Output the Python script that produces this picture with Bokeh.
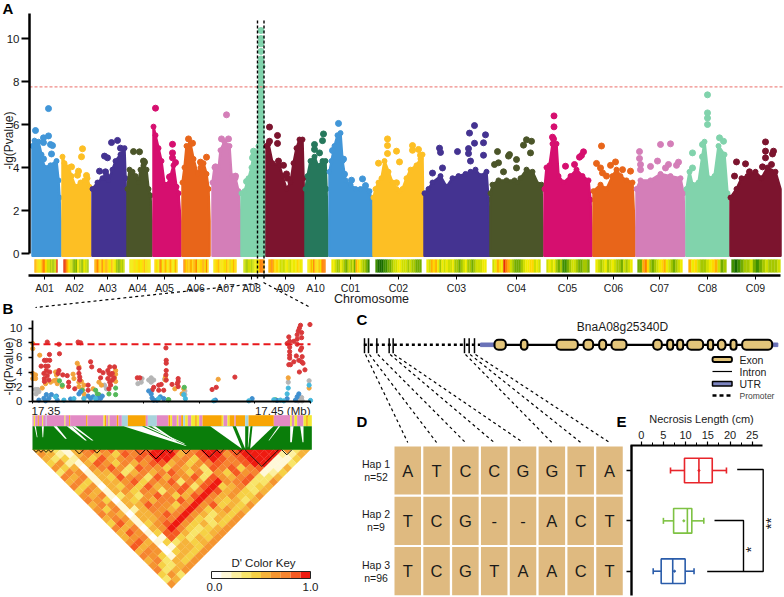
from bokeh.plotting import figure
from bokeh.models import LinearAxis, Range1d, FixedTicker
from bokeh.core.properties import value
from bokeh.embed import file_html
from bokeh.resources import INLINE
import math

FONT = "Liberation Sans"
W, H = 784, 597

# ---------------- Panel A data -----------------
chrom_names = ["A01","A02","A03","A04","A05","A06","A07","A08","A09","A10","C01","C02","C03","C04","C05","C06","C07","C08","C09"]
chrom_ticks = [44,74,107,137,164,195,225,251,285,315,350,398,456,516,567,613,659,707,755]
chrom_colors = ["#4196d8","#fdbf24","#443391","#4b5529","#d60f6f","#e8651a","#d47eb8","#81d3ac","#7c142e","#26785c",
                "#4196d8","#fdbf24","#443391","#4b5529","#d60f6f","#e8651a","#d47eb8","#81d3ac","#7c142e"]
env_A01 = [(32,5.0),(34,5.25),(38,5.2),(41,4.6),(44,4.0),(50,4.1),(56,4.3),(58,3.4),(59,2.6),(60,1.5)]
env_A02 = [(62,4.5),(64,4.2),(68,4.0),(71,3.6),(75,3.1),(80,3.3),(84,3.4),(87,3.5),(89,3.1),(90,1.5)]
env_A03 = [(92,3.0),(97,3.3),(102,3.5),(108,3.4),(112,3.9),(115,4.3),(120,4.6),(124,4.9),(125,3.5),(126,1.5)]
env_A04 = [(127,3.0),(129,3.9),(132,3.8),(135,3.6),(138,3.3),(140,3.9),(143,4.1),(146,3.9),(148,3.0),(150,2.7),(151,1.5)]
env_A05 = [(153,5.9),(155,5.5),(158,4.9),(161,4.3),(164,3.2),(167,3.2),(170,3.6),(173,4.1),(176,3.1),(178,2.8),(180,1.5)]
env_A06 = [(182,3.3),(184,4.0),(186,5.0),(190,5.1),(193,4.4),(197,3.7),(200,4.0),(203,4.2),(206,3.7),(208,3.0),(209,1.5)]
env_A07 = [(212,3.3),(214,4.0),(218,3.9),(220,4.8),(224,5.2),(229,5.0),(231,3.6),(235,3.5),(238,2.9),(240,1.5)]
env_A08 = [(241,2.8),(244,2.9),(248,3.5),(251,4.0),(253,4.6),(256,4.6),(258,5.0),(259,8.7),(262,8.7),(263,4.5),(264,3.0),(265,1.5)]
env_A09 = [(266,5.0),(268,5.1),(272,4.2),(279,4.1),(282,3.6),(286,3.0),(290,3.3),(293,4.2),(296,4.9),(299,5.3),(302,5.3),(303,3.5),(304,1.5)]
env_A10 = [(305,3.0),(307,3.6),(310,4.3),(314,4.5),(318,4.0),(320,4.1),(322,4.3),(325,4.3),(326,3.0),(327,1.5)]
env_C01 = [(329,3.8),(331,4.3),(334,5.0),(337,5.5),(340,5.6),(342,4.3),(345,3.4),(350,3.2),(355,3.0),(360,3.0),(365,3.1),(369,2.9),(371,2.5),(372,1.2)]
env_C02 = [(373,2.6),(375,3.0),(378,3.3),(381,3.5),(384,4.3),(388,3.8),(392,3.3),(396,3.0),(399,2.9),(402,3.0),(406,3.5),(410,3.9),(416,4.1),(420,4.4),(422,4.6),(423,1.2)]
env_C03 = [(424,2.8),(428,3.0),(432,3.3),(440,3.6),(446,3.1),(452,3.5),(458,3.6),(465,3.7),(470,3.8),(475,3.9),(480,3.6),(486,3.8),(488,2.5),(489,1.2)]
env_C04 = [(490,2.8),(492,3.2),(498,3.4),(506,3.4),(514,3.4),(517,3.3),(520,3.5),(526,3.9),(532,3.8),(538,3.2),(541,3.2),(542,1.2)]
env_C05 = [(544,3.0),(546,4.0),(549,4.1),(552,5.1),(556,5.1),(558,3.6),(563,3.3),(570,3.6),(576,3.9),(582,3.6),(588,3.4),(590,2.5),(591,1.2)]
env_C06 = [(593,2.9),(600,3.2),(606,3.0),(612,3.6),(616,3.9),(620,3.6),(626,3.4),(632,3.3),(634,1.2)]
env_C07 = [(636,3.0),(640,3.4),(650,3.4),(660,3.7),(670,3.6),(680,3.5),(683,2.8),(684,1.2)]
env_C08 = [(686,3.0),(689,3.8),(692,3.2),(698,3.3),(704,5.2),(708,3.5),(714,3.6),(718,5.0),(724,4.6),(727,2.8),(728,1.2)]
env_C09 = [(730,2.6),(736,3.0),(741,3.5),(747,3.6),(755,3.8),(761,3.5),(767,4.0),(775,3.8),(780,3.0)]
envelopes = [env_A01,env_A02,env_A03,env_A04,env_A05,env_A06,env_A07,env_A08,env_A09,env_A10,
             env_C01,env_C02,env_C03,env_C04,env_C05,env_C06,env_C07,env_C08,env_C09]

out_A01 = [(35,5.72),(48,6.74),(43,5.38),(48,5.47),(43,5.16),(50,5.07),(52,5.02),(51,4.63),(43,4.4)]
out_A02 = [(82,4.87),(81,4.5),(78,3.83),(77,3.64),(86,3.63),(71,4.03)]
out_A03 = [(111,5.16),(117,5.26),(120,4.9),(99,3.83),(105,3.8),(106,3.6),(104,4.53),(107,4.45)]
out_A04 = [(133,4.74),(139,4.73),(143,4.3),(144,4.25)]
out_A05 = [(155,6.76),(172,5.08),(172,4.68),(172,4.45),(175,4.23),(169,3.56)]
out_A06 = [(188,5.33),(192,5.13),(206,4.48),(200,4.25)]
out_A07 = [(226,6.45),(221,5.33),(228,5.33),(215,4.03),(235,3.6)]
out_A08 = [(260.5,9.05),(260.5,9.4),(260.5,9.75),(260.5,10.37),(260.5,10.0),(260.5,8.8),(246,3.35),(253,4.76),(252,4.45)]
out_A09 = [(269,5.88),(269,5.22),(277,5.49),(277,5.12),(278,4.3),(283,4.1),(286,3.7),(287,3.5)]
out_A10 = [(323,5.56),(322,5.25),(314,5.07),(314,4.84),(319,4.68)]
out_C01 = [(338,6.05),(332,4.79),(344,3.69),(351,3.41),(362,3.47),(365,3.16),(343,4.39)]
out_C02 = [(387,5.33),(387,5.02),(387,4.65),(378,4.2),(396,4.76),(412,5.02),(412,4.8),(418,4.84),(420,4.57),(399,4.26),(396,3.29)]
out_C03 = [(474,5.95),(469,5.6),(485,5.52),(474,5.13),(483,5.15),(439,4.9),(440,4.7),(457,4.74),(468,4.88),(468,4.65),(483,4.57),(470,4.3),(442,3.98),(432,3.74)]
out_C04 = [(497,4.74),(509,4.6),(508,4.53),(526,5.29),(531,5.22),(523,5.04),(530,4.68),(498,4.22),(494,4.14),(516,4.37),(516,3.98),(503,3.8)]
out_C05 = [(553.5,6.4),(553.5,5.89),(552,5.41),(553,5.33),(565,4.06),(581,4.56),(583,4.73),(579,4.48),(574,4.14)]
out_C06 = [(601,5.0),(596,4.19),(600,3.98),(602,3.75),(606,3.6),(615,4.26),(610,4.1),(630,3.83),(622,3.9)]
out_C07 = [(660,5.07),(670,5.1),(639,4.74),(639,4.42),(640,4.14),(640,3.9),(650,4.05),(657,4.3),(668,4.14),(665,3.98),(678,4.25),(676,4.1)]
out_C08 = [(707,7.38),(707,6.54),(707,6.3),(707,6.0),(692,4.68),(702,5.07),(719,5.38),(723,5.22),(702,4.5),(692,3.98)]
out_C09 = [(765,5.19),(765,4.76),(765,4.45),(736,4.26),(745,4.17),(749,3.8),(734,3.6),(762,4.03),(773,4.76),(772,4.63),(771,4.14)]
outliers = [out_A01,out_A02,out_A03,out_A04,out_A05,out_A06,out_A07,out_A08,out_A09,out_A10,
            out_C01,out_C02,out_C03,out_C04,out_C05,out_C06,out_C07,out_C08,out_C09]

strip_spans = [(34,57),(63,88),(94,124),(129,150),(154,177),(183,208),(213,236),(243,264),(268,302),(307,325),
               (331,369),(375,421),(426,486),(492,540),(546,589),(595,632),(637,682),(688,726),(731,780)]
strip_density = ["7766556788664443433449","9987654432325534245443","7787668667765576553323434","55556655665566756555",
                 "665587567656765576","87676776778566677586","56667656565766465766","4433444344554578887",
                 "778766654444554455556655","5567587665757888","5543354323434276543321","10001122344554443433222",
                 "5476753545445332345332344455","4576598743222345566454","4545323112344322332","5434534543324345",
                 "2278632345675432345","7564334567423","1012334212343334"]
strip_palette = ["#1a6b00","#3f8f00","#74ad00","#a6c800","#cfdf00","#f0ec00","#ffd800","#ffb000","#ff8000","#e83000"]
threshold_a = 7.75

# ---------------- Panel B data (kb from 17.35 Mb, -lg P) -----------------
b_red = [(5.3,8.1),(9.5,7.8),(16.4,8.1),(17.3,8.0),(48,7.3),(6.1,6.4),(9.7,6.5),(4.3,5.6),(6.2,5.6),(5,5.6),(3.1,4.8),(4.7,4.8),(5.6,4.8),(5,4.2),(6.2,4),(4.1,3.8),(5.3,3.5),(4.3,3.1),(5.9,2.9),(4.3,2.7),(9.5,4.2),(9.2,3.8),(10.9,3.6),(12.5,3.5),(13,2.6),(13,2),(15.2,1.7),(16.7,4.5),(16.7,3.8),(17,3.3),(17,2.9),(20,2.2),(20,1.5),(20.9,5.4),(21.3,4.7),(24.1,4.2),(25.4,3.9),(24.5,3.2),(27.1,4.2),(27.8,4.7),(29.5,4.7),(27.5,3.8),(28.1,3.6),(28.7,3.8),(27.1,3.1),(27.8,2.6),(28.7,2.9),(28.1,2.2),(27.5,1.7),(29.3,3.2),(37.7,3.2),(38.6,3.2),(43.6,1.9),(43,1.5),(45.4,2.2),(46.3,2.3),(47.2,1.5),(48.1,5.6),(48.1,5.2),(48.1,4.2),(48,3.6),(48.1,2.9),(45.4,1.5),(50.2,2.3),(52.4,3.1),(52.4,2.7),(52.1,2.4),(52.4,2),(64.6,1.6),(66.1,1.9),(72.8,3.3),(99.8,10.5),(96.4,10.4),(96,10),(95.6,9.6),(96.8,9.4),(95.2,9.1),(92.2,8.8),(94,8.2),(92.5,8.2),(96.8,8.7),(95.2,8.5),(91.6,7.9),(95.2,7.8),(96.8,7.3),(92.5,7.4),(96.4,7),(92.5,6.8),(92.5,6.3),(94.9,6.2),(97,6.1),(92.5,5.9),(95.8,5.6),(96.8,5.4),(94,5.4),(97.3,5.2),(92.2,5),(92.8,5),(98,4.3),(96,4)]
b_orange = [(0.1,7.9),(0.1,7.2),(2.6,6.3),(0.1,3.8),(1.1,3.6),(0.1,3.1),(1.1,3.1),(3.5,1.8),(4.7,2.4),(6.5,2.6),(8.3,4),(8.6,3.6),(8.5,2.9),(7.7,2.8),(8.9,2.4),(10.7,2),(14.6,3.7),(14.9,3.1),(16.1,5.2),(16.7,4.7),(16.7,2.6),(17.6,2.7),(16.7,2),(18.5,2.2),(17.9,1.6),(18.5,1),(18.5,0.4),(23.9,2.6),(29.9,4.2),(29.9,3.7),(29.9,2.7),(29.5,3.2),(24.8,2.2),(21.8,1.7),(66.8,3),(92,3.2),(47.8,3.3),(47.8,2.9),(51.2,1.7),(99.5,1.8),(53.8,1),(54.4,1.7)]
b_gray = [(1.1,1.6),(1.9,1.6),(1.3,1),(2.3,1.3),(25.9,2.2),(26.6,1.7),(37.9,2.4),(39.4,3.1),(39.1,2.6),(41.8,2.9),(42.7,3.2),(43.6,2.9),(42.7,2.6),(47.5,3),(54.8,1.4),(54.8,.9),(99.5,2.8),(92,2.6),(95.8,.2),(96.8,.5),(97,0.05),(95.6,.05)]
b_blue = [(2.3,.15),(4.1,.4),(5,.9),(5.9,.4),(4.7,.05),(6.8,.9),(8.6,.7),(8.9,.15),(13.7,.3),(17.3,1.3),(16.7,1),(20,.7),(20.9,.4),(21.8,.6),(23.5,.4),(25.1,.7),(24.5,.4),(41.8,1.4),(42.7,1),(43,.45),(43.6,.15),(46,.6),(44.8,.15),(47.2,.35),(65.8,.15),(79,.35),(95.8,1),(95.2,.6),(94.6,.15),(91.6,.35),(88,.1)]
b_cyan = [(11.3,.15),(8.3,.6),(14.9,.35),(18.5,.35),(22.7,.35),(45.4,.35),(55,.35),(54.4,.9),(65.2,.05),(77.8,.05),(86.8,.2),(89.2,.15),(91.6,1),(92,1.8),(99.5,2.2),(100,.1),(90.4,.05)]
b_green = [(9.7,2.8),(10.7,2.2),(17.9,1.5),(22.7,1.5),(23.3,1),(23.9,.9),(29.9,1.8),(29.9,.9),(27.5,1),(49,.2),(54.6,1.9),(48.8,.2),(87.4,.2)]
b_threshold = 7.8
b_ticks = [0, 20, 40, 60, 80, 100]

strip_segments = [(16,"p"),(20,"y"),(28,"p"),(31,"o"),(41,"p"),(44,"y"),(52,"p"),(54,"b"),(108,"p"),(111,"y"),(122,"p"),(125,"o"),(173,"p"),(177,"o"),(225,"p"),(229,"y"),(233,"o"),(240,"p"),(243,"y"),(265,"p"),(270,"o"),(280,"p"),(298,"b"),(352,"o"),(358,"p"),(385,"b"),(420,"p"),(426,"o"),(431,"y"),(445,"p"),(450,"y"),(458,"p"),(464,"o"),(470,"b"),(478,"y"),(488,"p"),(500,"y"),(505,"o"),(512,"y"),(522,"p"),(580,"o"),(585,"y"),(597,"p"),(603,"y"),(618,"o"),(622,"p"),(650,"o"),(660,"b"),(736,"o"),(785,"p"),(790,"y"),(798,"p"),(806,"y"),(825,"p"),(833,"y"),(838,"o"),(850,"y")]
strip_colors = {"p":"#e28ac4","o":"#f8a505","y":"#f2e833","b":"#a8d3dc"}
# white wedges: top-left, top-right, bottom-left, bottom-right, bottom level
wedge_top_l = [545,622,672,285,348,368,75,115,130,18,40,785,815,750,660]
wedge_top_r = [612,650,735,340,358,380,85,130,140,22,46,795,825,755,666]
wedge_bot_l = [640,650,665,470,465,440,110,170,190,25,42,785,822,720,658]
wedge_bot_r = [640,650,665,475,470,445,115,175,195,27,44,790,825,722,659]
wedge_bot_y = [115,115,115,106,100,92,85,90,90,80,80,95,95,90,110]
block_start = [15,30,45,60,140,195,320,355,415,460,520,565,610,650,760]
block_end   = [30,45,60,75,165,215,350,410,435,485,565,585,640,750,790]

ld_rows = ["543157878778899877998899999635","65215756487899957899689999225","5342648567879967489878999114","462158647568857467877899113",
           "64506786387647563878478115","3761557357578647364867124","757154867385768386578335","57415568476837589678336",
           "7460547485678389457345","475156476368579856435","65713536874589756446","7640546577869754535",
           "576155876479684546","64712576579745645","7650556879653546","576155779743546",
           "48514689645346","7570569743456","586148853456","56701843546",
           "6851435456","856015546","57604546","7641546","573546","64356","7356","463","35","6"]
ld_palette = ["#ffffff","#fff8d8","#fdf0a0","#f8e56a","#f6d145","#f6b33a","#f59530","#f68530","#f55a22","#ee1a10"]

# ---------------- Panel C data -----------------
gene_name = "BnaA08g25340D"
exon_start = [462,541,648,729,776,813,938,980,1010,1040,1102,1132,1170,1205]
exon_end   = [496,561,712,758,797,858,964,998,1028,1088,1118,1155,1188,1295]
snp_pos = [72,84,109,146,158,372,386,402]
promoter_span = [70,420]
utr_left = [420,462]
utr_right = [1295,1312]
intron_span = [462,1295]

# ---------------- Panel D data -----------------
hap_labels = [["Hap 1","n=52"],["Hap 2","n=9"],["Hap 3","n=96"]]
hap_alleles = [list("ATCCGGTA"),list("TCG--ACT"),list("TCGTAACT")]

# ---------------- Panel E data -----------------
box_low  = [6.6,5.0,2.7]
box_q1   = [9.75,7.3,4.5]
box_med  = [13.0,10.4,7.1]
box_q3   = [16.0,11.4,9.9]
box_high = [19.2,14.1,11.9]
box_mean = [13.0,9.6,7.5]
box_colors = ["#e8252b","#7ec243","#2a5caa"]
e_ticks = [0,5,10,15,20,25]

# ---------------- Canvas -----------------
p = figure(width=W, height=H, x_range=Range1d(0, W), y_range=Range1d(H, 0),
           x_axis_type=None, y_axis_type=None, toolbar_location=None, output_backend="svg",
           min_border=0, outline_line_color=None, margin=0)

def xr(name, v0, p0, v1, p1):
    k = (v1 - v0) / (p1 - p0)
    p.extra_x_ranges[name] = Range1d(v0 - k * p0, v0 + k * (W - p0))

def yr(name, v0, p0, v1, p1):
    k = (v1 - v0) / (p1 - p0)
    p.extra_y_ranges[name] = Range1d(v0 + k * (H - p0), v0 - k * p0)

def txt(x, y, s, size=11, align="center", bold=False, color="#1a1a1a", angle=0):
    p.text(x=[x], y=[y], text=[s], text_font=value(FONT), text_font_size=f"{size}px",
           text_align=align, text_baseline="middle", text_color=color, angle=angle,
           text_font_style="bold" if bold else "normal")

xr("a_x", 0, 0, 1, 1)
yr("a_y", 0, 253, 10, 38)
xr("b_x", 0, 32, 100, 310)
yr("b_y", 0, 400.7, 10, 327.7)
xr("s_x", 0, 28, 3, 29)
yr("s_y", 0, 410, 3, 411)
xr("ld_x", 0, 32, 30, 310)
yr("ld_y", 0, 449, 30, 588)
xr("key_x", 0, 211, 1, 310)
xr("g_x", 0, 340, 3, 341)
xr("d_x", 0, 407.25, 7, 609)
yr("d_y", 1, 470, 3, 570.7)
xr("e_x", 0, 640.7, 25, 751.7)
yr("e_y", 1, 470, 3, 570.7)

# ---- A ----
A = dict(x_range_name="a_x", y_range_name="a_y")
base = -0.1
for env, out, col in zip(envelopes, outliers, chrom_colors):
    xs = [e[0] for e in env]
    vs = [e[1] for e in env]
    p.patch([xs[0]] + xs + [xs[-1]], [base] + vs + [base], fill_color=col, line_color=col,
            line_width=2.5, line_join="round", **A)
    p.scatter(xs[:-1], vs[:-1], size=5, color=col, **A)
    p.scatter([o[0] for o in out], [o[1] for o in out], size=6, color=col, **A)

for (s, e), dens in zip(strip_spans, strip_density):
    n = len(dens)
    lefts = [s + (e - s) * i / n for i in range(n)]
    rights = [s + (e - s) * (i + 1) / n for i in range(n)]
    cols = [strip_palette[int(c)] for c in dens]
    p.quad(left=lefts, right=rights, top=[-0.28] * n, bottom=[-0.88] * n, fill_color=cols, line_color=cols, line_width=0.3, **A)

p.line([29, 784], [threshold_a] * 2, line_color="#ef8a86", line_width=1.1, line_dash="3 2", **A)

ay = LinearAxis(fixed_location=29, bounds=(0, 11.16), ticker=FixedTicker(ticks=[0, 2, 4, 6, 8, 10]), **A)
ay.axis_line_width = 2.5
ay.major_tick_line_width = 1.8
ay.major_tick_out = 8
ay.major_tick_in = 0
ay.minor_tick_line_color = None
ay.major_label_standoff = 2
ay.major_label_text_font = FONT
ay.major_label_text_font_size = "11.5px"
ay.major_label_text_color = "#1a1a1a"
p.add_layout(ay, "left")

ax = LinearAxis(fixed_location=-1.02, bounds=(28, 780), ticker=FixedTicker(ticks=chrom_ticks),
                major_label_overrides={t: n for t, n in zip(chrom_ticks, chrom_names)}, **A)
ax.axis_line_width = 2.5
ax.major_tick_line_width = 1
ax.major_tick_out = 4
ax.major_tick_in = 0
ax.minor_tick_line_color = None
ax.major_label_standoff = 3
ax.major_label_text_font = FONT
ax.major_label_text_font_size = "10.5px"
ax.major_label_text_color = "#1a1a1a"
p.add_layout(ax, "below")

txt(8, 140, "-lg(Pvalue)", size=12, angle=math.pi / 2)
txt(371, 298, "Chromosome", size=12.5)
txt(2, 8, "A", size=15, align="left", bold=True, color="#000000")
txt(2, 308, "B", size=15, align="left", bold=True, color="#000000")
txt(356, 319, "C", size=15, align="left", bold=True, color="#000000")
txt(356, 421, "D", size=15, align="left", bold=True, color="#000000")
txt(616, 421, "E", size=15, align="left", bold=True, color="#000000")

for x in [257, 263.5]:
    p.line([x, x], [20, 278], line_color="#000000", line_width=1.4, line_dash="3 2")
p.line([257, 35], [283, 307], line_color="#000000", line_width=1.2, line_dash="3 3")
p.line([263, 310], [282, 307], line_color="#000000", line_width=1.2, line_dash="3 3")

# ---- B scatter ----
B = dict(x_range_name="b_x", y_range_name="b_y")
for pts, col in [(b_gray, "#b5b5b5"), (b_orange, "#f2a33a"), (b_green, "#55b85a"), (b_red, "#d9393a"),
                 (b_blue, "#3f8fcf"), (b_cyan, "#45b8dc")]:
    p.scatter([q[0] for q in pts], [q[1] for q in pts], size=4.2, color=col, **B)
p.line([0, 100], [b_threshold] * 2, line_color="#e8181c", line_width=1.8, line_dash="7 4", **B)

by = LinearAxis(fixed_location=0, bounds=(0, 11), ticker=FixedTicker(ticks=[0, 2, 4, 6, 8, 10]), **B)
by.axis_line_width = 1.8
by.major_tick_line_width = 1.4
by.major_tick_out = 4
by.major_tick_in = 0
by.minor_tick_line_color = None
by.major_label_standoff = 6
by.major_label_text_font = FONT
by.major_label_text_font_size = "11.5px"
by.major_label_text_color = "#1a1a1a"
p.add_layout(by, "left")

bx = LinearAxis(fixed_location=0, bounds=(0, 100), ticker=FixedTicker(ticks=b_ticks),
                major_label_overrides={t: "" for t in b_ticks}, **B)
bx.axis_line_width = 2
bx.major_tick_line_width = 1
bx.major_tick_out = 2
bx.major_tick_in = 0
bx.minor_tick_line_color = None
p.add_layout(bx, "below")

txt(8, 366, "-lg(Pvalue)", size=12, angle=math.pi / 2)
txt(31, 410, "17.35", size=11.5, align="left")
txt(310, 410, "17.45 (Mb)", size=11.5, align="right")

# ---- LD heatmap ----
LD = dict(x_range_name="ld_x", y_range_name="ld_y")
ld_xs, ld_ys, ld_cols = [], [], []
for k, row in enumerate(ld_rows):
    for i, ch in enumerate(row):
        c = i + (k + 1) / 2
        ld_xs.append([c, c + 0.5, c, c - 0.5])
        ld_ys.append([k - 1, k, k + 1, k])
        ld_cols.append(ld_palette[int(ch)])
p.patches(ld_xs, ld_ys, fill_color=ld_cols, line_color=ld_cols, line_width=0.2, **LD)

# ---- B strip + green band ----
S = dict(x_range_name="s_x", y_range_name="s_y")
prev = 12
for end, key in strip_segments:
    p.quad(left=[prev], right=[end], top=[14], bottom=[47], fill_color=strip_colors[key], line_color=None, **S)
    prev = end
p.quad(left=[12], right=[850], top=[47], bottom=[118], fill_color="#0a7d0a", line_color=None, **S)
for tl, tr, bl, br, by_ in zip(wedge_top_l, wedge_top_r, wedge_bot_l, wedge_bot_r, wedge_bot_y):
    p.patch([tl, tr, br, bl], [47, 47, by_, by_], fill_color="#ffffff", line_color=None, **S)
for s_, e_ in zip(block_start, block_end):
    half = (e_ - s_) / 2
    p.line([s_, s_ + half, e_], [118, 118 + half, 118], line_color="#000000", line_width=0.9, **S)

# key
KEY = dict(x_range_name="key_x")
n = len(ld_palette)
p.quad(left=[i / n for i in range(n)], right=[(i + 1) / n for i in range(n)], top=[571] * n, bottom=[578] * n,
       fill_color=ld_palette, line_color=None, **KEY)
p.quad(left=[0], right=[1], top=[571], bottom=[578], fill_color=None, line_color="#222222", line_width=1, **KEY)
txt(263, 562, "D' Color Key", size=11.5)
txt(214, 586, "0.0", size=11.5)
txt(310, 586, "1.0", size=11.5)

# ---- C ----
G = dict(x_range_name="g_x")
GY = 344.3
p.line(promoter_span, [GY, GY], line_color="#000000", line_width=2.4, line_dash="3 3", **G)
p.quad(left=[utr_left[0], utr_right[0]], right=[utr_left[1], utr_right[1]], top=[GY - 1.8] * 2, bottom=[GY + 1.8] * 2,
       fill_color="#6a72b8", line_color="#6a72b8", **G)
p.line(intron_span, [GY, GY], line_color="#000000", line_width=2.2, **G)
p.quad(left=exon_start, right=exon_end, top=[GY - 5] * len(exon_start), bottom=[GY + 5] * len(exon_start),
       fill_color="#e3c57a", line_color="#000000", line_width=2, border_radius=4, **G)
p.segment(snp_pos, [337.7] * 8, snp_pos, [352.7] * 8, line_color="#000000", line_width=1.5, **G)
txt(622, 326, gene_name, size=12)

# connector lines from C to D
d_cols = list(range(8))
D = dict(x_range_name="d_x", y_range_name="d_y")
for sp, col in zip(snp_pos, d_cols):
    tx = 407.25 + col * 28.83
    p.line([340 + sp / 3 + 1, tx], [354, 442], line_color="#000000", line_width=1.2, line_dash="3 3")

# legend of C
LX0, LX1 = 712, 731.5
p.quad(left=[LX0], right=[LX1], top=[356.5], bottom=[361.5], fill_color="#e3c57a", line_color="#000000", line_width=1.8, border_radius=2)
p.line([LX0, LX1], [371, 371], line_color="#000000", line_width=1.2)
p.quad(left=[LX0], right=[LX1], top=[381], bottom=[385.5], fill_color="#7c84c0", line_color="#000000", line_width=1.5)
p.line([LX0, LX1], [395, 395], line_color="#000000", line_width=2.4, line_dash="4 3")
txt(739, 359, "Exon", size=10.5, align="left")
txt(739, 371, "Intron", size=10.5, align="left")
txt(739, 383, "UTR", size=10.5, align="left")
txt(739, 395.5, "Promoter", size=8.5, align="left", color="#444444")

# ---- D ----
cx, cy, letters = [], [], []
for r, row in enumerate(hap_alleles):
    for c, a in enumerate(row):
        cx.append(c)
        cy.append(r + 1)
        letters.append(a)
p.rect(cx, cy, width=0.92, height=0.958, fill_color="#dfba80", line_color=None, **D)
p.text(cx, cy, text=letters, text_font=value(FONT), text_font_size="16.5px", text_align="center",
       text_baseline="middle", text_color="#1a1a1a", **D)
for r, (l1, l2) in enumerate(hap_labels):
    ymid = 470 + r * 50.35
    txt(375.5, ymid - 6.5, l1, size=10.5)
    txt(375.5, ymid + 6.5, l2, size=10.5)

# ---- E ----
E = dict(x_range_name="e_x", y_range_name="e_y")
ys = [1, 2, 3]
h = 0.244
cap = 0.06
p.quad(left=box_q1, right=box_q3, top=[y - h for y in ys], bottom=[y + h for y in ys], fill_color=None,
       line_color=box_colors, line_width=1.6, **E)
p.segment(box_med, [y - h for y in ys], box_med, [y + h for y in ys], line_color=box_colors, line_width=1.6, **E)
p.segment(box_low, ys, box_q1, ys, line_color=box_colors, line_width=1.6, **E)
p.segment(box_q3, ys, box_high, ys, line_color=box_colors, line_width=1.6, **E)
p.segment(box_low, [y - cap for y in ys], box_low, [y + cap for y in ys], line_color=box_colors, line_width=1.6, **E)
p.segment(box_high, [y - cap for y in ys], box_high, [y + cap for y in ys], line_color=box_colors, line_width=1.6, **E)
p.scatter(box_mean, ys, size=2, color=box_colors, **E)

ex = LinearAxis(fixed_location=0.503, bounds=(-2.4, 27.3), ticker=FixedTicker(ticks=e_ticks, minor_ticks=[2.5, 7.5, 12.5, 17.5, 22.5]), **E)
ex.axis_line_width = 2
ex.major_tick_line_width = 1.2
ex.major_tick_out = 4
ex.major_tick_in = 0
ex.minor_tick_line_width = 1
ex.minor_tick_out = 3
ex.minor_tick_in = 0
ex.major_label_standoff = 2
ex.major_label_text_font = FONT
ex.major_label_text_font_size = "11px"
ex.major_label_text_color = "#1a1a1a"
p.add_layout(ex, "above")

ey = LinearAxis(fixed_location=-2.2, bounds=(0.503, 3.48), ticker=FixedTicker(ticks=ys),
                major_label_overrides={t: "" for t in ys}, **E)
ey.axis_line_width = 2.4
ey.major_tick_line_width = 1.6
ey.major_tick_out = 5
ey.major_tick_in = 0
ey.minor_tick_line_color = None
p.add_layout(ey, "left")

txt(701, 418, "Necrosis Length (cm)", size=11)

p.line([736.7, 762.7, 762.7, 706.7], [469, 469, 571, 571], line_color="#000000", line_width=1.4)
p.line([714, 743, 743], [520, 520, 571], line_color="#000000", line_width=1.4)
txt(750, 549, "*", size=15, angle=math.pi / 2)
txt(770, 523, "**", size=15, angle=math.pi / 2)

open("out.html", "w").write(file_html(p, INLINE))
